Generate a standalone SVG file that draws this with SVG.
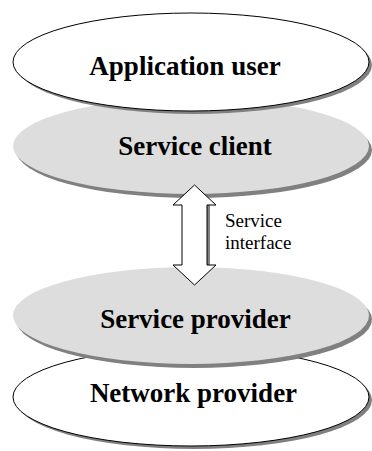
<svg xmlns="http://www.w3.org/2000/svg" width="372" height="451" viewBox="0 0 372 451">
<style>
.lbl{font-family:"Liberation Serif","Times New Roman",serif;font-weight:bold;font-size:27px;text-anchor:middle;fill:#000}
.sm{font-family:"Liberation Serif","Times New Roman",serif;font-size:19px;fill:#000}
.shadow{fill:#808080}
.white{fill:#fff;stroke:#000;stroke-width:1}
.gray{fill:#dddddd}
</style>
<rect width="372" height="451" fill="#fff"/>
<g id="service-client">
<ellipse class="shadow" cx="194" cy="150" rx="178" ry="48"/>
<ellipse class="gray" cx="191" cy="146" rx="178" ry="48"/>
<text class="lbl" x="195" y="155">Service client</text>
</g>
<g id="application-user">
<ellipse class="shadow" cx="194" cy="65" rx="178" ry="49"/>
<ellipse class="white" cx="191" cy="62" rx="178" ry="49"/>
<text class="lbl" x="185" y="75">Application user</text>
</g>
<g id="network-provider">
<ellipse class="shadow" cx="194" cy="400" rx="178" ry="49"/>
<ellipse class="white" cx="191" cy="397" rx="178" ry="49"/>
<text class="lbl" x="193.5" y="402">Network provider</text>
</g>
<g id="service-provider">
<ellipse class="shadow" cx="194" cy="319.5" rx="178" ry="48.5"/>
<ellipse class="gray" cx="191" cy="315.5" rx="178" ry="48.5"/>
<text class="lbl" x="195.5" y="328">Service provider</text>
</g>
<g id="connectors">
<rect x="207" y="205" width="3" height="60" fill="#808080"/>
<path d="M194.5,185 L216,205 L207,205 L207,265 L216,265 L194.5,285 L173,265 L182,265 L182,205 L173,205 Z" fill="#fff" stroke="#000" stroke-width="1"/>
<text class="sm" x="225" y="227">Service</text>
<text class="sm" x="225" y="249">interface</text>
</g>
</svg>
